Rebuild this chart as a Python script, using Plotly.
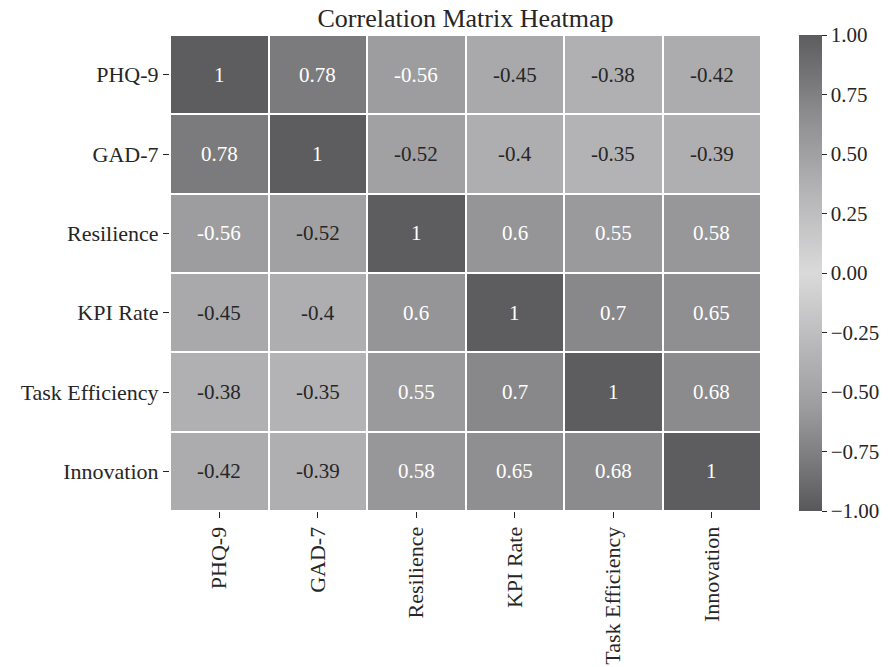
import plotly.graph_objects as go

labels = ["PHQ-9", "GAD-7", "Resilience", "KPI Rate", "Task Efficiency", "Innovation"]
corr = [
    [1.00, 0.78, -0.56, -0.45, -0.38, -0.42],
    [0.78, 1.00, -0.52, -0.40, -0.35, -0.39],
    [-0.56, -0.52, 1.00, 0.60, 0.55, 0.58],
    [-0.45, -0.40, 0.60, 1.00, 0.70, 0.65],
    [-0.38, -0.35, 0.55, 0.70, 1.00, 0.68],
    [-0.42, -0.39, 0.58, 0.65, 0.68, 1.00],
]
cbar_ticks = [-1.0, -0.75, -0.5, -0.25, 0.0, 0.25, 0.5, 0.75, 1.0]
cbar_text = ["\u22121.00", "\u22120.75", "\u22120.50", "\u22120.25", "0.00", "0.25", "0.50", "0.75", "1.00"]

colorscale = [
    [0.0, "#58585b"],
    [0.11, "#7c7c7f"],
    [0.22, "#9d9d9f"],
    [0.275, "#a9a9ab"],
    [0.3, "#aeaeb0"],
    [0.325, "#b3b3b5"],
    [0.5, "#dadadb"],
    [0.675, "#b3b3b5"],
    [0.775, "#9a9a9c"],
    [0.8, "#959597"],
    [0.85, "#88888a"],
    [0.89, "#7b7b7d"],
    [1.0, "#5d5d60"],
]

font = "Liberation Serif"
ink = "#262626"

L, R, T, B = 170, 761, 35, 511
W, H = 888, 667

fig = go.Figure(go.Heatmap(
    z=corr, x=labels, y=labels,
    zmin=-1, zmax=1, colorscale=colorscale,
    xgap=2, ygap=2,
    hoverinfo="skip",
    colorbar=dict(
        x=(799 - L) / (R - L), xanchor="left", y=0.5, yanchor="middle", len=1,
        thickness=23, outlinewidth=0, xpad=0, ypad=0,
        tickmode="array", tickvals=cbar_ticks, ticktext=cbar_text,
        ticks="outside", ticklen=5, tickcolor=ink, tickwidth=1,
        tickfont=dict(family=font, size=21, color=ink),
    ),
))

annotations = []
for i, row in enumerate(corr):
    for j, v in enumerate(row):
        txt = "1" if v == 1 else f"{v:g}"
        color = "#ffffff" if abs(v) > 0.54 else ink
        annotations.append(dict(x=labels[j], y=labels[i], text=txt, showarrow=False,
                                font=dict(family=font, size=21, color=color)))

fig.update_layout(
    width=W, height=H,
    margin=dict(l=L, r=W - R, t=T, b=H - B, autoexpand=False),
    paper_bgcolor="white", plot_bgcolor="white",
    title=dict(text="Correlation Matrix Heatmap", x=(L + R) / 2 / W, xanchor="center",
               y=1 - 18 / H, yanchor="middle",
               font=dict(family=font, size=26, color=ink)),
    annotations=annotations,
    xaxis=dict(tickangle=-90, ticks="outside", ticklen=6, tickcolor=ink,
               tickfont=dict(family=font, size=22, color=ink), showgrid=False, zeroline=False),
    yaxis=dict(autorange="reversed", ticks="outside", ticklen=6, tickcolor=ink,
               tickfont=dict(family=font, size=22, color=ink), showgrid=False, zeroline=False),
)

fig.write_html(
    "out.html",
    config={"displayModeBar": False},
    post_script="document.body.style.margin='0';document.body.style.overflow='hidden';",
)
